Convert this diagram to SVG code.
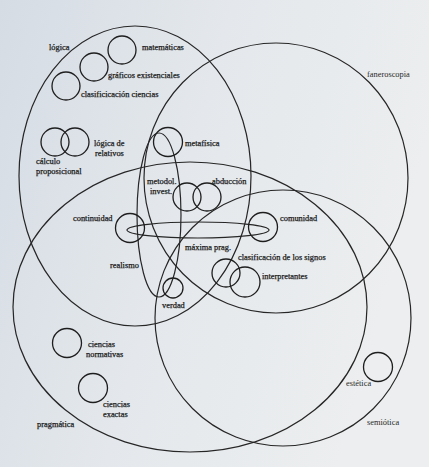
<svg xmlns="http://www.w3.org/2000/svg" width="429" height="467" viewBox="0 0 429 467">
<defs>
<linearGradient id="bg" x1="0" y1="0" x2="1" y2="0.3">
<stop offset="0" stop-color="#d5dce4"/>
<stop offset="0.5" stop-color="#e4e8ec"/>
<stop offset="1" stop-color="#eceeef"/>
</linearGradient>
<style>
.big{fill:none;stroke:#262626;stroke-width:1.2}
.c{fill:none;stroke:#1e1e1e;stroke-width:1.3}
text{font-family:"Liberation Serif","Times New Roman",serif;font-size:8.4px;fill:#1a1a1a;stroke:#1a1a1a;stroke-width:0.25}
.lt{fill:#2a2a2a;stroke:none}
</style>
</defs>
<rect width="429" height="467" fill="url(#bg)"/>
<g id="connectors">
<ellipse id="logica-set" class="big" cx="135" cy="176" rx="116" ry="150"/>
<ellipse id="faneroscopia-set" class="big" cx="276" cy="178" rx="132" ry="135"/>
<ellipse id="pragmatica-set" class="big" cx="190" cy="307" rx="177" ry="145"/>
<ellipse id="semiotica-set" class="big" cx="283" cy="318" rx="128" ry="128"/>
<ellipse id="metodol-set" class="big" cx="159" cy="215" rx="22" ry="82"/>
<ellipse id="maxima-set" class="big" cx="198" cy="230" rx="71" ry="8"/>
</g>
<g id="labels-sets">
<text x="49" y="50">lógica</text>
<text class="lt" x="367" y="77">faneroscopia</text>
<text x="37" y="427">pragmática</text>
<text class="lt" x="367" y="425">semiótica</text>
<text x="147" y="184">metodol.</text>
<text x="150" y="194">invest.</text>
<text x="185" y="250">máxima prag.</text>
</g>
<g id="matematicas"><circle class="c" cx="122" cy="50" r="14"/><text x="142" y="50">matemáticas</text></g>
<g id="graficos"><circle class="c" cx="94" cy="67" r="14"/><text x="108" y="78">gráficos existenciales</text></g>
<g id="clasificacion-ciencias"><circle class="c" cx="66" cy="86" r="14"/><text x="81" y="97">clasificicación ciencias</text></g>
<g id="calculo"><circle class="c" cx="55" cy="142" r="14"/><text x="36" y="164">cálculo</text><text x="36" y="174">proposicional</text></g>
<g id="logica-relativos"><circle class="c" cx="75" cy="142" r="14"/><text x="94" y="146">lógica de</text><text x="95" y="156">relativos</text></g>
<g id="metafisica"><circle class="c" cx="168" cy="142" r="14.5"/><text x="185" y="146">metafísica</text></g>
<g id="metodol"><circle class="c" cx="187" cy="197" r="14"/></g>
<g id="abduccion"><circle class="c" cx="207" cy="197" r="14"/><text x="212" y="184">abducción</text></g>
<g id="continuidad"><circle class="c" cx="130" cy="228" r="14.5"/><text x="73" y="221">continuidad</text></g>
<g id="comunidad"><circle class="c" cx="263" cy="227" r="14.5"/><text x="280" y="221">comunidad</text></g>
<g id="clasificacion-signos"><circle class="c" cx="226" cy="273" r="14"/><text x="238" y="260">clasificación de los signos</text></g>
<g id="interpretantes"><circle class="c" cx="245" cy="282" r="15"/><text x="262" y="279">interpretantes</text></g>
<g id="realismo"><text x="110" y="268">realismo</text></g>
<g id="verdad"><circle class="c" cx="173" cy="288" r="10"/><text x="162" y="308">verdad</text></g>
<g id="ciencias-normativas"><circle class="c" cx="67" cy="343" r="14.5"/><text x="88" y="347">ciencias</text><text x="86" y="357">normativas</text></g>
<g id="ciencias-exactas"><circle class="c" cx="93" cy="388" r="14.5"/><text x="103" y="407">ciencias</text><text x="103" y="417">exactas</text></g>
<g id="estetica"><circle class="c" cx="378" cy="367" r="14.5"/><text class="lt" x="346" y="386">estética</text></g>
</svg>
